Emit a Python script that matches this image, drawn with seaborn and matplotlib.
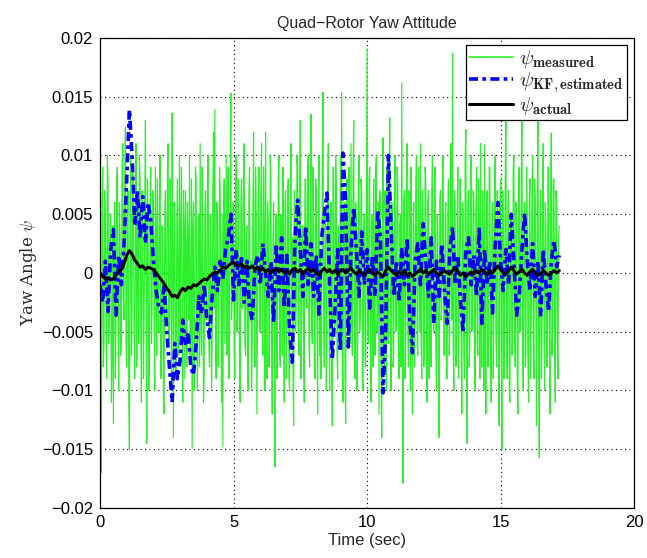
import numpy as np
import pandas as pd
import matplotlib
matplotlib.use("Agg")
import matplotlib.pyplot as plt
import seaborn as sns

# Yaw angle samples, stored in milliradians (scaled to rad below)
# measured: 40 samples per second
measured_mrad = [
    2, -5, -17, 6, 9, -8, -6, 7, 4, -3, -9, 10, 8, -6, -3, 5, 5, -11, -7, 4, -12.8, 3, 6, -9, -2, 8, 9, -4, -10, 6, 3, -7, -5, 9, 11, -2, -4, 7, 12.4, -6,
    -8, 5, 7, -10, -15, 4, 10, -7, -3, 9, 6, -5, -9, 3, 11, -8, 2, 6, -6, 10, 8, -4, -11, 7, 5, -9, -4, 6, 13, -2, -14.5, 8, 4, -10, -7, 5, 9, -6, -3, 7,
    6, -4, -10, 9, 3, -7, 8, -2, -5, 6, 10, -9, -8, 4, 2, -11, -12, 5, 7, -3, -4, 9, 11, -6, -6, 8, 3, -10, 13.6, 2, -14, 6, 5, -8, -9, 4, 8, -7, -2, 10,
    -6, 3, 9, -5, -11, 7, 4, -9, 7, 2, -8, 6, 2, -4, 10, -7, -5, 8, -14.9, 4, 6, -10, -3, 9, 8, -6, -10, 3, 5, -8, 11, -4, -7, 9, 1, -11, -9, 5, 7, -3,
    -4, 8, 10, -6, -8, 5, 3, -10, -6, 7, 12, -3, 13.9, -5, -9, 6, 4, -8, -3, 9, 7, -2, -11, 5, -14.8, 3, 8, -6, 2, 10, -7, 4, 9, -9, -5, 7, 15.3, -4, -2, 6,
    6, -7, -9, 4, 10, -5, -4, 8, 3, -9, -11, 6, 8, -3, -2, 10, 11, -6, -7, 3, 4, -8, -10, 7, 9, -4, 1, -10, -6, 5, 12, -3, -8, 9, 5, -12, -3, 6, 9, -5,
    -5, 7, 11, -4, -7, 9, 3, -10, 12, -2, -9, 6, 4, -8, -6, 10, 8, -5, -12, 3, 6, -7, -16.5, 4, 5, -9, -3, 8, 10, -6, -8, 5, 2, -7, 9, -3, -11, 6, 7, -9,
    -4, 6, 8, -9, -10, 5, 11, -3, 3, -8, -13, 7, 6, -5, -2, 10, 9, -4, -7, 6, 13, -9, -5, 4, 4, -7, -11, 8, 8, -2, -3, 9, 10, -6, -8, 5, 13.5, -4, -6, 9,
    5, -6, -9, 8, 7, -4, -12, 6, 10, -7, 2, -9, -6, 9, 15.4, -3, -8, 5, 4, -10, -5, 7, 11, -4, -10, 3, 6, -8, -13, 9, 9, -5, -4, 10, 7, -7, -9, 4, 3, -6,
    10, -5, 15.4, -8, -11, 4, 6, -9, -12.8, 7, 8, -3, -5, 9, 3, -6, 11, -4, -7, 8, 13, -2, -9, 6, 4, -10, -6, 7, 10, -5, -3, 8, 7, -9, -10, 4, 5, -7, -8, 6,
    19.1, -4, -6, 8, 9, -7, -11, 5, 4, -8, 8, -3, -7, 9, 10, -5, -3, 6, -12, 7, 6, -9, -14, 4, 11.5, -6, -8, 7, 3, -10, 9, -4, -6, 8, 13.2, -5, -10, 6, 5, -8,
    -7, 6, 10, -5, -4, 9, 8, -6, -9, 4, 5, -8, 16.2, -3, -17.9, 6, 7, -9, -5, 8, 11, -4, -8, 7, 3, -10, 9, -5, -12, 4, 6, -8, -4, 7, 10, -6, -7, 9, 2, -5,
    11, -6, -9, 7, 5, -8, -6, 9, 8, -4, -11, 6, 7, -9, 3, -5, -8, 7, 10, -3, -5, 8, 9, -6, -10, 5, 4, -9, -14, 6, 7, -4, -3, 9, 10, -7, -7, 5, 6, -9,
    -9, 5, 8, -7, -5, 9, 11, -4, 18.7, -6, -10, 7, 6, -8, -7, 4, 9, -9, -4, 8, 8, -5, -12, 6, 5, -7, -9, 10, 12.2, -3, -14.5, 6, 7, -8, -6, 9, 10, -5, -3, 7,
    6, -8, -10, 5, 9, -6, -7, 8, 4, -9, 11, -3, -8, 7, 3, -10, 10.9, -4, -12, 6, 7, -8, -5, 9, 9, -6, -11, 4, 6, -9, -3, 8, 10, -5, -8, 7, 5, -10, -13, 6,
    8, -5, -15, 7, 6, -9, -4, 8, 14.5, -6, -9, 5, 7, -10, -11, 4, 5, -7, -6, 9, 10, -4, -8, 6, 4, -9, -12, 7, 9, -5, -3, 8, 14.1, -6, -10, 5, 6, -8, -7, 9,
    5, -7, -11, 6, 8, -9, -4, 7, 10, -5, -9, 8, 6, -4, -13, 7, 13.7, -6, -15.7, 5, 7, -9, -6, 8, 11, -5, -10, 6, 4, -8, -8, 9, 9, -4, -12, 6, 11.9, -7, -5, 8,
    8, -6, -11, 7, 6, -5, -9, 3, 4,
]

# Kalman filter estimate: 10 samples per second
estimated_mrad = [
    -1, -2.5, 1, -3.3, 2, 3.7, -3.6, 1.5, -1, 2.5,
    8, 13.9, 10, 4, 7, 3, 6.5, 2.5, 6, 4.5,
    1, -1.5, -3, -3.4, -1, -5, -8, -11, -6, -9,
    -7.4, -4, -6, -5, -8, -8.7, -6, -2, -3.5, -1,
    -4, -5.5, -2, 0.5, -1.5, 1, -0.5, 2, 3, 5,
    -2.3, 2, -1, 1.5, -2.5, 1, -3, -4, 0.5, 1.5,
    -1, 2.5, 0, -2, 1, -4.2, 2.5, -1.5, 3, -3,
    1.5, -5, -7.6, 3, 6.2, 2, -2, 4, -1, 2.5,
    -2, 1.5, -3.5, 3, 5, 6.8, -1, -7.4, -3, 2,
    -6.7, 10.2, 6, -6.3, 2, 5.6, 2, -2, 3.5, -1,
    2, -3, 1.5, -2, 5.4, 3, -10.2, -5, 10, 4,
    -2, 1, -2.5, 2, -1, 3, -4, -6.8, 1, 2.5,
    -1, 4.2, 1, -2, 3, -4.3, 1, -2, 2.5, -1.5,
    -4.3, 2, 3.9, -1, 1.5, -2.5, -5.1, 2, 3, -1,
    1.5, -2, 3.9, -4.3, 2, -1, 1, -3.4, 2.5, 6,
    1, -1.5, 2, -1, 5, 1, -3.6, -2, 2, 5.1,
    1, -1.5, 2.5, -2, 1, -3.7, 2, -1, -3.3, 1,
    2.8, 0.5, 1.5,
]

# true attitude: 10 samples per second
actual_mrad = [
    0, -0.3, -0.5, -0.4, -0.6, -0.5, -0.2, 0.1, 0.3, 0.8,
    1.5, 1.9, 1.6, 1.1, 0.8, 0.5, 0.6, 0.3, 0.5, 0.4,
    0.3, 0.0, -0.3, -0.6, -0.9, -1.3, -1.6, -2.0, -1.9, -2.1,
    -1.6, -1.3, -1.5, -1.2, -1.3, -1.0, -1.1, -0.9, -0.7, -0.5,
    -0.6, -0.3, -0.1, 0.1, 0.0, 0.2, 0.5, 0.4, 0.6, 0.8,
    0.9, 0.7, 0.6, 0.8, 0.5, 0.6, 0.4, 0.6, 0.3, 0.5,
    0.2, 0.4, 0.1, 0.3, 0.0, 0.2, 0.4, 0.1, 0.3, 0.0,
    0.2, -0.1, 0.3, 0.4, 0.1, 0.3, -0.1, 0.2, 0.4, 0.1,
    0.3, 0.0, -0.2, 0.2, 0.4, 0.1, 0.3, 0.0, 0.2, -0.1,
    0.2, 0.3, 0.0, 0.2, 0.4, 0.1, -0.1, 0.2, 0.0, -0.2,
    0.1, 0.3, 0.0, -0.2, 0.1, -0.1, -0.3, 0.2, 0.5, 0.2,
    0.0, -0.2, 0.1, -0.1, 0.2, -0.2, 0.0, -0.3, -0.1, 0.1,
    0.3, 0.0, 0.2, -0.1, 0.1, 0.3, 0.0, -0.2, 0.0, 0.2,
    0.0, -0.1, 0.2, 0.4, 0.1, -0.2, 0.0, -0.3, -0.1, 0.1,
    -0.1, 0.2, 0.0, 0.3, 0.1, -0.1, 0.2, 0.0, 0.3, 0.6,
    0.3, 0.0, -0.1, 0.2, 0.5, 0.2, -0.1, 0.1, 0.3, 0.0,
    -0.2, 0.1, 0.3, 0.0, -0.2, -0.1, 0.2, 0.0, -0.2, 0.0,
    0.2, 0.0, 0.2,
]

t_end = 17.2
x_ticks = [0, 5, 10, 15, 20]
y_ticks = [-0.02, -0.015, -0.01, -0.005, 0, 0.005, 0.01, 0.015, 0.02]
y_tick_labels = ["\u22120.02", "\u22120.015", "\u22120.01", "\u22120.005", "0",
                 "0.005", "0.01", "0.015", "0.02"]

meas = pd.DataFrame({"t": np.linspace(0, t_end, len(measured_mrad)),
                     "psi": np.array(measured_mrad) * 1e-3})
est = pd.DataFrame({"t": np.linspace(0, t_end, len(estimated_mrad)),
                    "psi": np.array(estimated_mrad) * 1e-3})
act = pd.DataFrame({"t": np.linspace(0, t_end, len(actual_mrad)),
                    "psi": np.array(actual_mrad) * 1e-3})

sns.set_theme(style="white")
plt.rcParams["font.family"] = ["Liberation Sans", "DejaVu Sans"]
plt.rcParams["mathtext.fontset"] = "cm"

fig = plt.figure(figsize=(6.47, 5.58), dpi=100)
ax = fig.add_axes([0.1546, 0.0896, 0.8254, 0.8424])

sns.lineplot(data=meas, x="t", y="psi", ax=ax, color="#2cf02c", lw=0.85,
             estimator=None, label=r"$\psi_{\mathbf{measured}}$")
sns.lineplot(data=est, x="t", y="psi", ax=ax, color="#0000ff", lw=2.6,
             estimator=None, linestyle=(0, (2.5, 1.2, 1, 1.2)),
             label=r"$\psi_{\mathbf{KF,estimated}}$")
sns.lineplot(data=act, x="t", y="psi", ax=ax, color="black", lw=2.2,
             estimator=None, label=r"$\psi_{\mathbf{actual}}$")

ax.set_xlim(0, 20)
ax.set_ylim(-0.02, 0.02)
ax.set_xticks(x_ticks)
ax.set_xticklabels([str(v) for v in x_ticks], fontsize=12)
ax.set_yticks(y_ticks)
ax.set_yticklabels(y_tick_labels, fontsize=12)
ax.tick_params(direction="in", length=5, width=0.8, colors="black", pad=5)
for s in ax.spines.values():
    s.set_visible(True)
    s.set_color("black")
    s.set_linewidth(0.9)
ax.grid(True, color="black", linestyle=(0, (1, 3)), linewidth=0.8)

ax.set_title("Quad\u2212Rotor Yaw Attitude", fontsize=11.5, pad=7)
ax.set_xlabel("Time (sec)", fontsize=12, labelpad=2)
ax.set_ylabel(r"Yaw Angle $\psi$", fontsize=12, family="DejaVu Serif", labelpad=2)

leg = ax.legend(loc="upper right", fontsize=15, frameon=True, fancybox=False,
                borderaxespad=0.35, handlelength=2.1, borderpad=0.15,
                labelspacing=0.0, handletextpad=0.3)
leg.get_frame().set_edgecolor("black")
leg.get_frame().set_linewidth(0.9)
leg.get_frame().set_alpha(1)
for h in leg.get_lines()[:1]:
    h.set_linewidth(1.2)

fig.savefig("out.png", dpi=100, facecolor="white")
